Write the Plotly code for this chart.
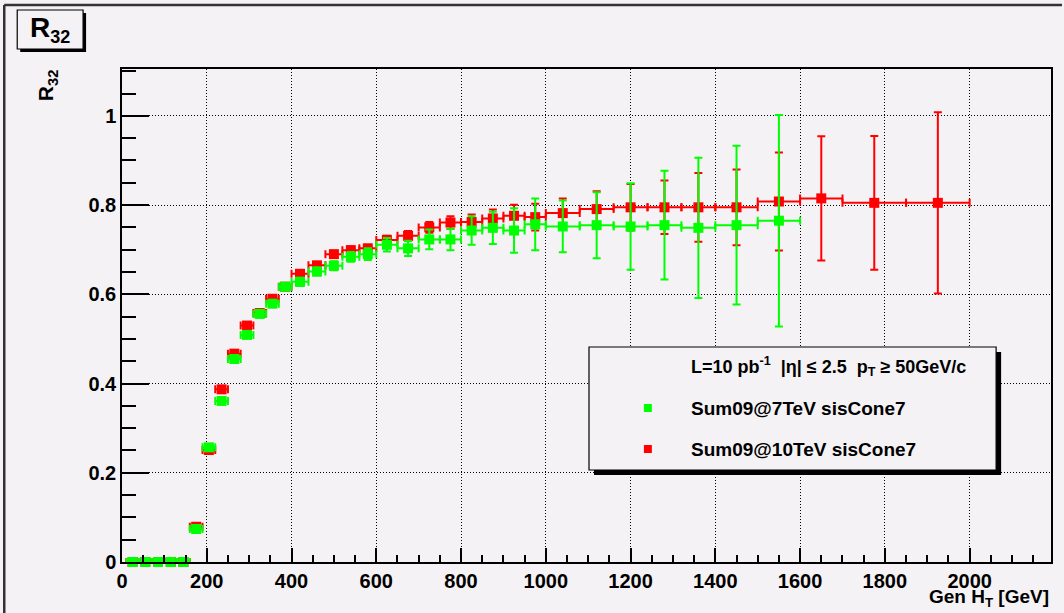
import plotly.graph_objects as go

# ---------------- data ----------------
bin_edges = [10, 40, 70, 100, 130, 160, 190, 220, 250, 280, 310, 340, 370, 400,
             440, 480, 520, 560, 600, 650, 700, 750, 800, 850, 900, 950, 1000,
             1080, 1160, 1240, 1320, 1400, 1500, 1600, 1700, 1850, 2000]

r32_7tev = [0, 0, 0, 0, 0,
            0.074, 0.257, 0.361, 0.455, 0.509, 0.556, 0.579, 0.617, 0.628, 0.651, 0.664, 0.684, 0.690,
            0.711, 0.703, 0.723, 0.723, 0.743, 0.749, 0.743, 0.757,
            0.752, 0.755, 0.752, 0.755, 0.749,
            0.755, 0.765]
err_7tev = [0, 0, 0, 0, 0,
            0.004, 0.005, 0.005, 0.006, 0.006, 0.006, 0.007, 0.008, 0.009, 0.009, 0.010, 0.011, 0.013,
            0.015, 0.017, 0.022, 0.024, 0.032, 0.036, 0.050, 0.058,
            0.058, 0.074, 0.097, 0.122, 0.157,
            0.178, 0.237]

r32_10tev = [0, 0, 0, 0, 0,
             0.079, 0.251, 0.387, 0.467, 0.530, 0.558, 0.590, 0.617, 0.646, 0.665, 0.690, 0.699, 0.703,
             0.722, 0.731, 0.750, 0.761, 0.762, 0.770, 0.776, 0.773,
             0.782, 0.791, 0.795, 0.795, 0.795,
             0.795, 0.808,
             0.815, 0.805, 0.805]
err_10tev = [0, 0, 0, 0, 0,
             0.004, 0.005, 0.005, 0.005, 0.005, 0.006, 0.006, 0.006, 0.007, 0.007, 0.007, 0.008, 0.008,
             0.009, 0.011, 0.012, 0.014, 0.017, 0.020, 0.025, 0.030,
             0.033, 0.040, 0.052, 0.060, 0.077,
             0.085, 0.110,
             0.139, 0.150, 0.203]

x_tick_vals = [0, 200, 400, 600, 800, 1000, 1200, 1400, 1600, 1800, 2000]
y_tick_vals = [0, 0.2, 0.4, 0.6, 0.8, 1.0]

label_7 = "Sum09@7TeV sisCone7"
label_10 = "Sum09@10TeV sisCone7"
header = "L=10 pb<sup>-1</sup>\u00a0 |η| ≤ 2.5\u00a0 p<sub>T</sub> ≥ 50GeV/c"

centers = [(a + b) / 2 for a, b in zip(bin_edges[:-1], bin_edges[1:])]
half_w = [(b - a) / 2 for a, b in zip(bin_edges[:-1], bin_edges[1:])]

# ---------------- layout helpers ----------------
W, H = 1064, 613
ML, MR, MT, MB = 122, 11, 69, 51
PW, PH = W - ML - MR, H - MT - MB


def px(x):
    return (x - ML) / PW


def py(y):
    return 1 - (y - MT) / PH


BG = "#f5f2f5"
GREEN = "#00ff00"
RED = "#ff0000"
FONT = "Liberation Sans, Arial, Helvetica, sans-serif"

fig = go.Figure()

n10 = len(r32_10tev)
fig.add_trace(go.Scatter(
    x=centers[:n10], y=r32_10tev, mode="markers", name=label_10, cliponaxis=False,
    marker=dict(symbol="square", size=10, color=RED),
    error_x=dict(type="data", array=half_w[:n10], color=RED, thickness=2, width=4),
    error_y=dict(type="data", array=err_10tev, color=RED, thickness=2, width=4),
    showlegend=False,
))
n7 = len(r32_7tev)
fig.add_trace(go.Scatter(
    x=centers[:n7], y=r32_7tev, mode="markers", name=label_7, cliponaxis=False,
    marker=dict(symbol="square", size=10, color=GREEN),
    error_x=dict(type="data", array=half_w[:n7], color=GREEN, thickness=2, width=4),
    error_y=dict(type="data", array=err_7tev, color=GREEN, thickness=2, width=4),
    showlegend=False,
))

axis_common = dict(
    showline=True, linecolor="black", linewidth=1.5, mirror=True,
    ticks="inside", tickcolor="black", tickwidth=1.5,
    showgrid=True, gridcolor="black", gridwidth=1, griddash="1px,2px",
    zeroline=False,
    tickfont=dict(family=FONT, size=20, color="black", weight="bold"),
)

fig.update_xaxes(
    range=[0, 2192], tickvals=x_tick_vals, ticklen=14,
    minor=dict(dtick=50, ticklen=7, ticks="inside", tickcolor="black", tickwidth=1.5, showgrid=False),
    **axis_common,
)
fig.update_yaxes(
    range=[0, 1.105], tickvals=y_tick_vals, ticklen=27,
    minor=dict(dtick=0.05, ticklen=14, ticks="inside", tickcolor="black", tickwidth=1.5, showgrid=False),
    **axis_common,
)

shapes = []
annotations = []

# canvas border (top and left)
shapes.append(dict(type="line", xref="paper", yref="paper", x0=px(4), x1=px(1064), y0=py(5), y1=py(5),
                   line=dict(color="#333", width=2.5)))
shapes.append(dict(type="line", xref="paper", yref="paper", x0=px(4), x1=px(4), y0=py(5), y1=py(613),
                   line=dict(color="#333", width=2.5)))

# title box with shadow
shapes.append(dict(type="rect", xref="paper", yref="paper", x0=px(20), x1=px(86), y0=py(52), y1=py(13),
                   fillcolor="black", line=dict(width=0), layer="above"))
shapes.append(dict(type="rect", xref="paper", yref="paper", x0=px(17), x1=px(83), y0=py(49), y1=py(10),
                   fillcolor=BG, line=dict(color="black", width=1.2), layer="above"))
annotations.append(dict(xref="paper", yref="paper", x=px(50), y=py(30), xanchor="center", yanchor="middle",
                        text="R<sub><span style='font-size:18px'>32</span></sub>", showarrow=False,
                        font=dict(family=FONT, size=28, color="black", weight="bold")))

# legend box with shadow
shapes.append(dict(type="rect", xref="paper", yref="paper", x0=px(595), x1=px(1003), y0=py(475), y1=py(352),
                   fillcolor="black", line=dict(width=0), layer="above"))
shapes.append(dict(type="rect", xref="paper", yref="paper", x0=px(590), x1=px(998), y0=py(470), y1=py(347),
                   fillcolor=BG, line=dict(color="black", width=1.2), layer="above"))
# legend glyphs
shapes.append(dict(type="rect", xref="paper", yref="paper", x0=px(645), x1=px(653), y0=py(412), y1=py(404),
                   fillcolor=GREEN, line=dict(width=0), layer="above"))
shapes.append(dict(type="rect", xref="paper", yref="paper", x0=px(645), x1=px(653), y0=py(453), y1=py(445),
                   fillcolor=RED, line=dict(width=0), layer="above"))

header_font = dict(family=FONT, size=18, color="black", weight="bold")
legend_font = dict(family=FONT, size=19, color="black", weight="bold")
annotations.append(dict(xref="paper", yref="paper", x=px(690), y=py(366), xanchor="left", yanchor="middle",
                        text=header, showarrow=False, font=header_font))
annotations.append(dict(xref="paper", yref="paper", x=px(690), y=py(408), xanchor="left", yanchor="middle",
                        text=label_7, showarrow=False, font=legend_font))
annotations.append(dict(xref="paper", yref="paper", x=px(690), y=py(449), xanchor="left", yanchor="middle",
                        text=label_10, showarrow=False, font=legend_font))

# axis titles
annotations.append(dict(xref="paper", yref="paper", x=1.0, y=py(612), xanchor="right", yanchor="bottom",
                        text="Gen H<sub>T</sub> [GeV]", showarrow=False,
                        font=dict(family=FONT, size=19, color="black", weight="bold")))
annotations.append(dict(xref="paper", yref="paper", x=px(47), y=py(85), xanchor="center", yanchor="middle",
                        text="R<sub>32</sub>", textangle=-90, showarrow=False,
                        font=dict(family=FONT, size=21, color="black", weight="bold")))

fig.update_layout(
    width=W, height=H,
    margin=dict(l=ML, r=MR, t=MT, b=MB, pad=0),
    paper_bgcolor=BG, plot_bgcolor=BG,
    shapes=shapes, annotations=annotations,
    showlegend=False,
)

fig.write_html("out.html", config={"displayModeBar": False},
               post_script="document.body.style.margin='0';document.body.style.overflow='hidden';")
